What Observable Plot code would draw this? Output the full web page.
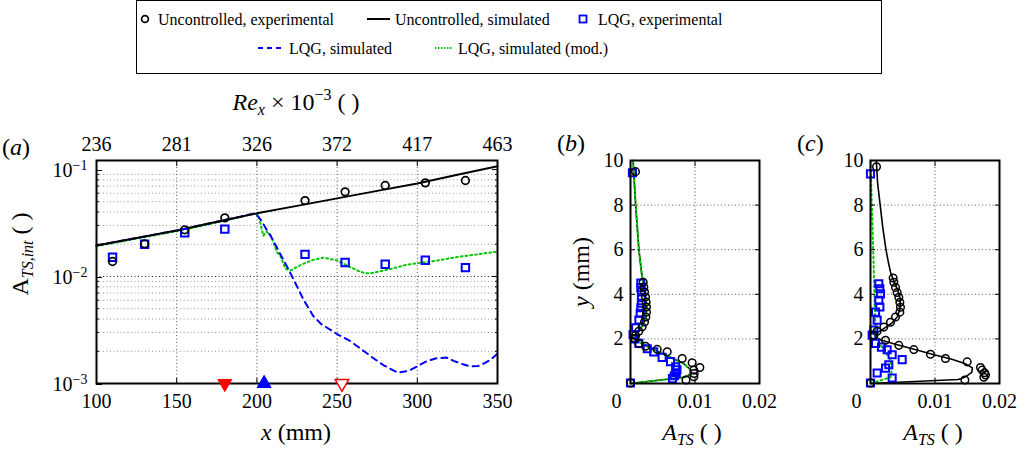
<!DOCTYPE html>
<html><head><meta charset="utf-8">
<script src="https://cdn.jsdelivr.net/npm/d3@7"></script>
<script src="https://cdn.jsdelivr.net/npm/@observablehq/plot@0.6"></script>
<style>
body{margin:0;background:#fff;}
#root{position:relative;width:1026px;height:451px;overflow:hidden;background:#fff;}
.panel{position:absolute;top:80px;}
#overlay{position:absolute;left:0;top:0;pointer-events:none;}
</style></head><body><div id="root"></div>
<script>
const fontFam = "'Liberation Serif','Times New Roman',serif";

// ---------- Panel (a) ----------
const xTicksA = [100,150,200,250,300,350];
const reTickLabels = ["236","281","326","372","417","463"];
const decadesA = [1e-3,1e-2,1e-1];
const minorA = [2e-3,3e-3,4e-3,5e-3,6e-3,7e-3,8e-3,9e-3,2e-2,3e-2,4e-2,5e-2,6e-2,7e-2,8e-2,9e-2];
const expX = [110,130,155,180,230,255,280,305,330];
const uncExpA = [0.0138,0.0202,0.0273,0.0353,0.0512,0.0618,0.0708,0.0750,0.0789];
const lqgExpA = [0.0151,0.0200,0.0256,0.0277,0.0161,0.0135,0.0130,0.0142,0.0121];
const uncSimX = [100,125,150,175,200,225,250,275,300,325,350];
const uncSimA = [0.0195,0.0229,0.0269,0.0324,0.0389,0.0457,0.0537,0.0631,0.0741,0.0891,0.107];
const lqgSimX = [100,125,150,175,199,203,206,210,214,219,223,229,235,240,244,250,258,265,272,279,288,295,300,306,312,318,323,328,333,338,342,346,350];
const lqgSimA = [0.0195,0.0229,0.0269,0.0324,0.0389,0.0330,0.0275,0.0220,0.0168,0.0122,0.0093,0.0061,0.0043,0.0036,0.0033,0.0029,0.0025,0.0021,0.00175,0.00148,0.00126,0.00132,0.00145,0.00162,0.00172,0.00175,0.00162,0.00152,0.00144,0.00146,0.00155,0.00168,0.0019];
const modSimX = [100,125,150,175,199,201,204,206,208.5,212.6,214.7,217.8,221,225,229,235,241.7,250,258.4,263,267.7,272,277,285,291.6,300,312.4,324.8,337.3,350];
const modSimA = [0.0192,0.0226,0.0265,0.0319,0.0389,0.0372,0.0240,0.0262,0.0245,0.0168,0.0155,0.0118,0.01138,0.0123,0.01315,0.0143,0.0150,0.0141,0.0122,0.0113,0.0107,0.0108,0.0112,0.0119,0.0127,0.0133,0.0141,0.0152,0.0161,0.0171];
const markerX = [180, 204.5, 253];

// ---------- Panel (b) ----------
const bUncExpX = [0,0.00078,0.00197,0.00207,0.00217,0.00233,0.00243,0.00248,0.00248,0.00238,0.00217,0.00181,0.00129,0.00078,0.00070,0.00129,0.00233,0.00414,0.00569,0.00801,0.00956,0.01075,0.00982,0.00987,0.00982,0.00860];
const bUncExpY = [0.02,9.5,4.54,4.32,4.10,3.88,3.65,3.43,3.20,2.98,2.76,2.54,2.34,2.15,2.02,1.79,1.67,1.53,1.42,1.12,0.93,0.72,0.60,0.45,0.30,0.16];
const bLqgExpX = [0,0.00030,0.0016,0.0016,0.0017,0.0017,0.0017,0.0016,0.0015,0.0013,0.0008,0.0004,0.0006,0.0013,0.0026,0.0036,0.0049,0.0062,0.0070,0.0072,0.0071,0.0068,0.0065];
const bLqgExpY = [0.02,9.45,4.5,4.3,4.1,3.85,3.6,3.4,3.15,2.85,2.5,2.2,2.0,1.8,1.56,1.42,1.17,0.98,0.75,0.62,0.48,0.35,0.22];
const bSimY = [10,8,6,5,4.5,4,3.5,3,2.6,2.3,2.1,1.9,1.7,1.5,1.2,0.9,0.6,0.4,0.28,0];
const bSimX = [0.0004,0.0008,0.0013,0.0017,0.0020,0.0023,0.0025,0.0024,0.0019,0.0010,0.0006,0.0011,0.0023,0.0037,0.0060,0.0082,0.0094,0.0092,0.0084,0];
const bModX = [0.0004,0.0008,0.0013,0.0017,0.0020,0.0023,0.0025,0.0024,0.0019,0.0010,0.0006,0.0011,0.0023,0.0037,0.0060,0.0082,0.0094,0.0092,0.0084,0];

// ---------- Panel (c) ----------
const cUncExpX = [0,0.00093,0.00351,0.00362,0.00388,0.00413,0.00439,0.00455,0.00465,0.00455,0.00388,0.00310,0.00207,0.00103,0.00052,0.00233,0.00439,0.00672,0.00930,0.01163,0.01499,0.01705,0.01730,0.01767,0.01783,0.01757,0.01463];
const cUncExpY = [0.02,9.72,4.73,4.54,4.31,4.08,3.87,3.64,3.42,3.20,2.98,2.75,2.53,2.34,2.16,1.94,1.71,1.52,1.31,1.12,0.97,0.72,0.60,0.48,0.38,0.28,0.16];
const cLqgExpX = [0,0,0.00129,0.00145,0.00155,0.00129,0.00145,0.00078,0.00103,0.00052,0.00026,0.00078,0.00170,0.00258,0.00336,0.00491,0.00284,0.00233,0.00103,0.00336];
const cLqgExpY = [0.02,9.4,4.47,4.25,4.02,3.73,3.43,3.20,2.84,2.40,2.17,1.80,1.63,1.51,1.29,1.07,0.84,0.69,0.47,0.25];
const cSimY = [10,9,8,7,6,5.4,5,4.6,4.2,3.8,3.4,3.0,2.7,2.45,2.25,2.1,1.95,1.75,1.5,1.3,1.1,0.9,0.7,0.5,0.35,0.25,0.18,0];
const cSimX = [0.0009,0.0011,0.0015,0.0019,0.0024,0.0028,0.0031,0.0036,0.0042,0.0046,0.0046,0.0042,0.0033,0.0020,0.0009,0.0007,0.0016,0.0040,0.0072,0.0097,0.0125,0.0146,0.0158,0.0157,0.0150,0.0143,0.0136,0];
const cModY = [10,5.2,4,3,2.5,2.2,2.0,1.7,1.4,1.05,0.6,0.28,0];
const cModX = [0.0000,0.0005,0.0006,0.0007,0.0008,0.0006,0.0010,0.0016,0.0023,0.0031,0.0033,0.0031,0];

const profXTicks = [0.01, 0.02];
const profYTicks = [2,4,6,8,10];

// ---------- helpers ----------
const rows = (xs, ys) => xs.map((x, i) => ({x, y: ys[i]}));
const BLUE = "#0000ff", GREEN = "#00c800", RED = "#ff0000";
const dotted = {strokeDasharray: "1,2.5", strokeWidth: 1};
const GREEN_DASH = "1.8,3";
const triDown = {draw(ctx, size) {
  const y = -Math.sqrt(size / (Math.sqrt(3) * 3));
  ctx.moveTo(0, -y * 2); ctx.lineTo(-Math.sqrt(3) * y, y); ctx.lineTo(Math.sqrt(3) * y, y); ctx.closePath();
}};
const baseStyle = {fontFamily: fontFam, fontSize: "20px", background: "transparent", color: "black", overflow: "visible"};

function supify(svg) {
  d3.select(svg).selectAll("text").each(function() {
    const t = this.textContent;
    const m = /^(.*)\^(.*)$/.exec(t);
    if (m) {
      this.textContent = m[1];
      d3.select(this).append("tspan").attr("dy", "-0.5em").attr("font-size", "0.7em").text(m[2].replace("-", "\u2212"));
    }
  });
}

const root = document.getElementById("root");
function place(el, left) {
  const d = document.createElement("div");
  d.className = "panel"; d.style.left = left + "px";
  d.appendChild(el); root.appendChild(d);
}

// ---------- Panel (a) plot ----------
const plotA = Plot.plot({
  width: 540, height: 371, marginLeft: 96, marginRight: 43, marginTop: 80, marginBottom: 68,
  style: baseStyle,
  x: {domain: [100, 350]},
  y: {type: "log", domain: [1e-3, 0.1213]},
  marks: [
    Plot.ruleY(minorA, {stroke: "#9a9a9a", ...dotted}),
    Plot.ruleY(decadesA.slice(1, 2), {stroke: "#222", ...dotted}),
    Plot.ruleX(xTicksA.slice(1, -1), {stroke: "#555", ...dotted}),
    Plot.line(rows(modSimX, modSimA), {x: "x", y: "y", stroke: GREEN, strokeWidth: 2, strokeDasharray: GREEN_DASH}),
    Plot.line(rows(lqgSimX, lqgSimA), {x: "x", y: "y", stroke: BLUE, strokeWidth: 2, strokeDasharray: "6,5"}),
    Plot.line(rows(uncSimX, uncSimA), {x: "x", y: "y", stroke: "black", strokeWidth: 2}),
    Plot.dot(rows(expX, lqgExpA), {x: "x", y: "y", symbol: "square", r: 4.2, stroke: BLUE, strokeWidth: 2, fill: "none"}),
    Plot.dot(rows(expX, uncExpA), {x: "x", y: "y", r: 3.8, stroke: "black", strokeWidth: 1.7, fill: "none"}),
    Plot.frame({stroke: "black", strokeWidth: 2}),
    Plot.axisX({anchor: "bottom", ticks: xTicksA, tickSize: -5, tickPadding: 15, label: null}),
    Plot.axisX({anchor: "top", ticks: xTicksA, tickSize: -5, tickPadding: 15, label: null, tickFormat: d => reTickLabels[xTicksA.indexOf(d)]}),
    Plot.axisY({anchor: "left", ticks: decadesA, tickSize: -6, tickPadding: 15, dy: 1, label: null, tickFormat: d => "10^" + Math.round(Math.log10(d))}),
    Plot.axisY({anchor: "left", ticks: minorA, tickSize: -3, label: null, tickFormat: () => ""}),
    Plot.axisY({anchor: "right", ticks: decadesA, tickSize: -6, label: null, tickFormat: () => ""}),
    Plot.axisY({anchor: "right", ticks: minorA, tickSize: -3, label: null, tickFormat: () => ""}),
    Plot.dot([markerX[0]], {x: d => d, frameAnchor: "bottom", symbol: triDown, r: 5.2, fill: RED, stroke: RED, strokeWidth: 1}),
    Plot.dot([markerX[1]], {x: d => d, frameAnchor: "bottom", symbol: "triangle", r: 5.2, fill: BLUE, stroke: BLUE, strokeWidth: 1}),
    Plot.dot([markerX[2]], {x: d => d, frameAnchor: "bottom", symbol: triDown, r: 5.0, fill: "white", stroke: RED, strokeWidth: 1.5})
  ]
});
supify(plotA);
place(plotA, 0);

// ---------- Profile panels ----------
function profile(width, marginRight, sim, mod, unc, lqg) {
  const marks = [
    Plot.ruleX([0.01], {stroke: "#555", ...dotted}),
    Plot.ruleY(profYTicks.slice(0, -1), {stroke: "#555", ...dotted}),
    Plot.line(sim, {x: "x", y: "y", stroke: "black", strokeWidth: 1.6}),
    Plot.line(mod, {x: "x", y: "y", stroke: GREEN, strokeWidth: 2, strokeDasharray: GREEN_DASH}),
    Plot.dot(lqg, {x: "x", y: "y", symbol: "square", r: 4.0, stroke: BLUE, strokeWidth: 2, fill: "none"}),
    Plot.dot(unc, {x: "x", y: "y", r: 3.8, stroke: "black", strokeWidth: 1.5, fill: "none"}),
    Plot.frame({stroke: "black", strokeWidth: 2}),
    Plot.axisX({anchor: "bottom", ticks: profXTicks, tickSize: -5, tickPadding: 15, label: null, tickFormat: d3.format(".2f")}),
    Plot.axisX({anchor: "bottom", ticks: [0], tickSize: 0, tickPadding: 10, dx: -14, label: null, tickFormat: () => "0"}),
    Plot.axisX({anchor: "top", ticks: [0.01], tickSize: -5, label: null, tickFormat: () => ""}),
    Plot.axisY({anchor: "left", ticks: profYTicks, tickSize: -5, tickPadding: 12, label: null}),
    Plot.axisY({anchor: "right", ticks: profYTicks.slice(0, -1), tickSize: -5, label: null, tickFormat: () => ""})
  ];
  return Plot.plot({
    width, height: 371, marginLeft: 90, marginRight, marginTop: 80, marginBottom: 68,
    style: baseStyle,
    x: {domain: [0, 0.02]},
    y: {domain: [0, 10]},
    marks
  });
}
const plotB = profile(240, 21, rows(bSimX, bSimY), rows(bModX, bSimY), rows(bUncExpX, bUncExpY), rows(bLqgExpX, bLqgExpY));
place(plotB, 540);
const plotC = profile(246, 27, rows(cSimX, cSimY), rows(cModX, cModY), rows(cUncExpX, cUncExpY), rows(cLqgExpX, cLqgExpY));
place(plotC, 780);

// ---------- Overlay: labels + legend ----------
const ov = d3.select(root).append("svg").attr("id", "overlay").attr("width", 1026).attr("height", 451)
  .attr("font-family", fontFam).style("white-space", "pre");

function rich(x, y, parts, {size = 24, anchor = "middle", rotate = 0} = {}) {
  const t = ov.append("text").attr("transform", `translate(${x},${y}) rotate(${rotate})`)
    .attr("text-anchor", anchor).attr("font-size", size).attr("fill", "black");
  let shift = 0;
  for (const p of parts) {
    const s = t.append("tspan").text(p.t);
    if (p.i) s.attr("font-style", "italic");
    const target = p.sub ? 0.2 * size : p.sup ? -0.42 * size : 0;
    if (target !== shift) { s.attr("dy", target - shift); shift = target; }
    if (p.sub || p.sup) s.attr("font-size", Math.round(size * 0.68));
  }
}
rich(2, 155, [{t: "("}, {t: "a", i: true}, {t: ")"}], {anchor: "start"});
rich(557, 151, [{t: "("}, {t: "b", i: true}, {t: ")"}], {anchor: "start"});
rich(797, 151, [{t: "("}, {t: "c", i: true}, {t: ")"}], {anchor: "start"});
rich(296, 110, [{t: "Re", i: true}, {t: "x", i: true, sub: true}, {t: " \u00d7 10"}, {t: "\u22123", sup: true}, {t: " ( )"}]);
rich(296, 440, [{t: "x", i: true}, {t: " (mm)"}]);
rich(28, 254, [{t: "A"}, {t: "TS,int", i: true, sub: true}, {t: " ( )"}], {rotate: -90});
rich(692, 440, [{t: "A", i: true}, {t: "TS", i: true, sub: true}, {t: " ( )"}]);
rich(933, 440, [{t: "A", i: true}, {t: "TS", i: true, sub: true}, {t: " ( )"}]);
rich(589, 272, [{t: "y", i: true}, {t: " (mm)"}], {rotate: -90});

// legend
const lg = ov.append("g");
lg.append("rect").attr("x", 136.5).attr("y", 0.5).attr("width", 745).attr("height", 73).attr("fill", "white").attr("stroke", "black").attr("stroke-width", 1);
const lt = (x, y, s) => lg.append("text").attr("x", x).attr("y", y).attr("font-size", 16).text(s);
lg.append("circle").attr("cx", 145).attr("cy", 19).attr("r", 3.4).attr("fill", "none").attr("stroke", "black").attr("stroke-width", 1.7);
lt(158, 24.5, "Uncontrolled, experimental");
lg.append("line").attr("x1", 367).attr("x2", 390).attr("y1", 19).attr("y2", 19).attr("stroke", "black").attr("stroke-width", 2);
lt(395, 24.5, "Uncontrolled, simulated");
lg.append("rect").attr("x", 579.5).attr("y", 15.5).attr("width", 7).attr("height", 7).attr("fill", "none").attr("stroke", BLUE).attr("stroke-width", 1.8);
lt(598, 24.5, "LQG, experimental");
lg.append("line").attr("x1", 258).attr("x2", 282).attr("y1", 48).attr("y2", 48).attr("stroke", BLUE).attr("stroke-width", 2).attr("stroke-dasharray", "5,4");
lt(289, 53.5, "LQG, simulated");
lg.append("line").attr("x1", 435).attr("x2", 453).attr("y1", 48).attr("y2", 48).attr("stroke", GREEN).attr("stroke-width", 2).attr("stroke-dasharray", "1.5,1.5");
lt(458, 53.5, "LQG, simulated (mod.)");
</script></body></html>
